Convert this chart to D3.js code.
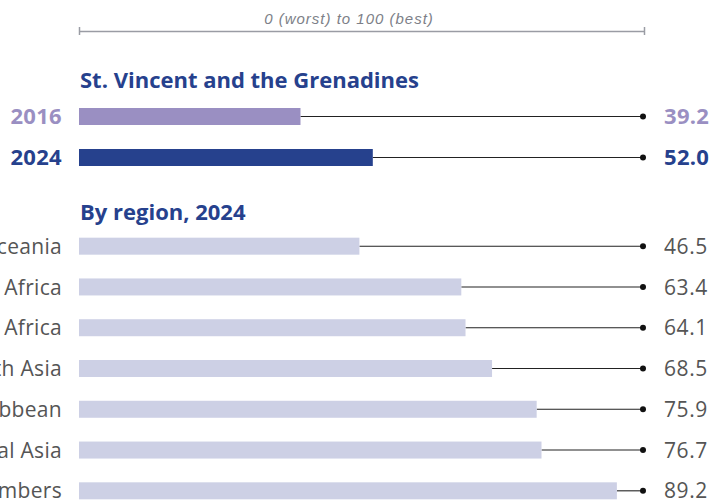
<!DOCTYPE html>
<html>
<head>
<meta charset="utf-8">
<script src="https://cdn.jsdelivr.net/npm/d3@7"></script>
<style>
  body { margin: 0; background: #fff; }
  svg { display: block; }
</style>
</head>
<body>
<svg id="chart" width="712" height="502"></svg>
<script>
// country rows (2016 vs 2024) and regional averages for 2024
const countryName = 'St. Vincent and the Grenadines';
const years = ['2016', '2024'];
const countryScores = [39.2, 52.0];
const yearColors = ['#9a8fc2', '#26418d'];

const regionTitle = 'By region, 2024';
const regions = [
    'Oceania',
    'Sub-Saharan Africa',
    'Middle East & North Africa',
    'East & South Asia',
    'Latin America & the Caribbean',
    'Eastern Europe & Central Asia',
    'OECD members'
];
const regionScores = [46.5, 63.4, 64.1, 68.5, 75.9, 76.7, 89.2];

const scaleLabel = '0 (worst) to 100 (best)';

const svg = d3.select('#chart');
const LEFT = 79;
const DOT_X = 643;
const LABEL_X = 62;
const VALUE_X = 664;
const BAR_H = 17;
const FONT = '"Open Sans", "Noto Sans", sans-serif';

// x scales (the region bars in the source are drawn a little wider)
const xCountry = d3.scaleLinear().domain([0, 100]).range([LEFT, DOT_X + 1]);
const xRegion = d3.scaleLinear().domain([0, 100]).range([LEFT, 682]);

// top scale note
svg.append('text')
    .attr('x', 349)
    .attr('y', 24)
    .attr('text-anchor', 'middle')
    .attr('font-family', '"Liberation Sans", Arial, sans-serif')
    .attr('font-style', 'italic')
    .attr('font-size', 15)
    .attr('letter-spacing', 1)
    .attr('fill', '#7d7f88')
    .text(scaleLabel);

const axisG = svg.append('g').attr('transform', 'translate(0,31)');
axisG.call(d3.axisTop(xCountry).tickValues([0, 100]).tickSizeOuter(0).tickFormat(''));
axisG.select('.domain').attr('stroke', '#9a9ca4').attr('stroke-width', 1.3);
axisG.selectAll('.tick line')
    .attr('stroke', '#9a9ca4').attr('stroke-width', 1.5)
    .attr('y1', -4).attr('y2', 4);

// section titles
function title(text, y) {
    svg.append('text')
        .attr('x', 80)
        .attr('y', y)
        .attr('font-family', FONT)
        .attr('font-weight', 700)
        .attr('font-size', 22)
        .attr('fill', '#26418d')
        .text(text);
}
title(countryName, 88);
title(regionTitle, 220);

// country rows
const yCountry = d3.scaleBand().domain(years).range([96, 178]).paddingInner(0.6).paddingOuter(0.3);
const countryRows = svg.append('g').selectAll('g')
    .data(years.map((y, i) => ({ year: y, value: countryScores[i], color: yearColors[i] })))
    .join('g')
    .attr('transform', d => `translate(0,${yCountry(d.year) + yCountry.bandwidth() / 2})`);

countryRows.append('line')
    .attr('x1', d => xCountry(d.value)).attr('x2', DOT_X)
    .attr('stroke', '#222').attr('stroke-width', 1.1);
countryRows.append('rect')
    .attr('x', xCountry(0)).attr('y', -BAR_H / 2)
    .attr('width', d => xCountry(d.value) - xCountry(0))
    .attr('height', BAR_H)
    .attr('fill', d => d.color);
countryRows.append('circle').attr('cx', DOT_X).attr('r', 3).attr('fill', '#111');
countryRows.append('text')
    .attr('x', LABEL_X).attr('dy', '0.36em')
    .attr('text-anchor', 'end')
    .attr('font-family', FONT).attr('font-weight', 700).attr('font-size', 22)
    .attr('letter-spacing', 0.3)
    .attr('fill', d => d.color)
    .text(d => d.year);
countryRows.append('text')
    .attr('x', VALUE_X).attr('dy', '0.36em')
    .attr('font-family', FONT).attr('font-weight', 700).attr('font-size', 22)
    .attr('letter-spacing', 0.3)
    .attr('fill', d => d.color)
    .text(d => d.value.toFixed(1));

// region rows
const yRegion = d3.scaleBand().domain(regions).range([226, 511]).paddingInner(0.57).paddingOuter(0.28);
const regionRows = svg.append('g').selectAll('g')
    .data(regions.map((r, i) => ({ name: r, value: regionScores[i] })))
    .join('g')
    .attr('transform', d => `translate(0,${yRegion(d.name) + yRegion.bandwidth() / 2})`);

regionRows.append('line')
    .attr('x1', d => xRegion(d.value)).attr('x2', DOT_X)
    .attr('stroke', '#222').attr('stroke-width', 1.1);
regionRows.append('rect')
    .attr('x', xRegion(0)).attr('y', -BAR_H / 2)
    .attr('width', d => xRegion(d.value) - xRegion(0))
    .attr('height', BAR_H)
    .attr('fill', '#cdd0e5');
regionRows.append('circle').attr('cx', DOT_X).attr('r', 3).attr('fill', '#111');
regionRows.append('text')
    .attr('x', LABEL_X).attr('dy', '0.36em')
    .attr('text-anchor', 'end')
    .attr('font-family', FONT).attr('font-size', 21)
    .attr('letter-spacing', 0.3)
    .attr('fill', '#555')
    .text(d => d.name);
regionRows.append('text')
    .attr('x', VALUE_X).attr('dy', '0.36em')
    .attr('font-family', FONT).attr('font-size', 21)
    .attr('letter-spacing', 0.6)
    .attr('fill', '#555')
    .text(d => d.value.toFixed(1));
</script>
</body>
</html>
